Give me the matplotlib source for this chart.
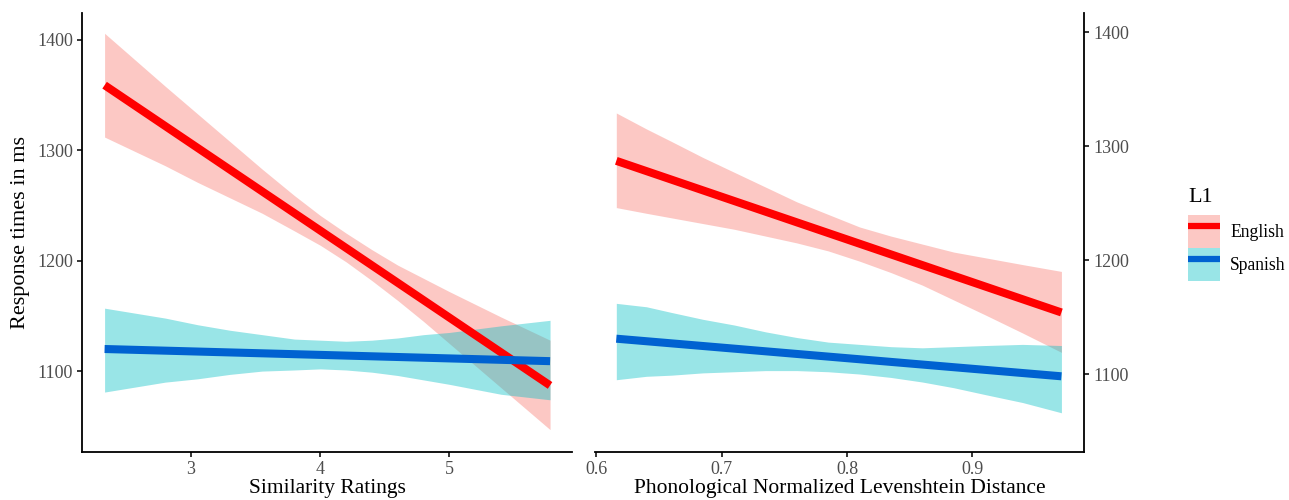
import matplotlib
matplotlib.use("Agg")
import matplotlib.pyplot as plt
from matplotlib.lines import Line2D
from matplotlib.patches import Patch

plt.rcParams["font.family"] = ["Liberation Serif", "DejaVu Serif"]

LINE_COLORS = {"English": "#ff0000", "Spanish": "#0062d1"}
BAND_COLORS = {"English": "#f8766d", "Spanish": "#00bfc4"}
BAND_ALPHA = 0.4
TICK_GRAY = "#4d4d4d"

# left panel: similarity ratings
sim_line_x = [2.33, 5.78]
sim_english_fit = [1359, 1087]
sim_spanish_fit = [1120, 1109]
sim_band_x = [2.33, 2.8, 3.05, 3.3, 3.55, 3.8, 4.0, 4.2, 4.4, 4.6, 4.8, 5.0, 5.4, 5.78]
sim_english_lo = [1312, 1286, 1271, 1257, 1243, 1227, 1214, 1199, 1182, 1164, 1145, 1125, 1085, 1047]
sim_english_hi = [1406, 1358, 1333, 1308, 1283, 1259, 1241, 1225, 1210, 1196, 1184, 1172, 1149, 1128]
sim_spanish_lo = [1081, 1090, 1093, 1097, 1100, 1101, 1102, 1101, 1099, 1096, 1092, 1088, 1079, 1074]
sim_spanish_hi = [1157, 1148, 1142, 1137, 1133, 1129, 1128, 1127, 1128, 1130, 1133, 1135, 1141, 1146]

# right panel: phonological normalized Levenshtein distance
pld_line_x = [0.616, 0.971]
pld_english_fit = [1287, 1154]
pld_spanish_fit = [1131, 1098]
pld_band_x = [0.616, 0.64, 0.66, 0.685, 0.71, 0.735, 0.76, 0.785, 0.81,
              0.835, 0.86, 0.885, 0.91, 0.94, 0.971]
pld_english_lo = [1246, 1241, 1237, 1232, 1227, 1221, 1215, 1208, 1199, 1189, 1178, 1165, 1152, 1136, 1119]
pld_english_hi = [1329, 1315, 1304, 1290, 1277, 1264, 1251, 1240, 1229, 1221, 1214, 1207, 1202, 1196, 1190]
pld_spanish_lo = [1095, 1098, 1099, 1101, 1102, 1103, 1103, 1102, 1100, 1097, 1093, 1088, 1082, 1075, 1066]
pld_spanish_hi = [1162, 1159, 1154, 1148, 1143, 1137, 1132, 1128, 1126, 1124, 1123, 1124, 1125, 1126, 1125]

sim_xticks = [3, 4, 5]
pld_xticks = [0.6, 0.7, 0.8, 0.9]
yticks = [1100, 1200, 1300, 1400]
groups = ["English", "Spanish"]


def draw_panel(ax, line_x, band_x, fits, bands):
    # english first, so the spanish band sits over the english line
    for name in groups:
        lo, hi = bands[name]
        ax.fill_between(band_x, lo, hi, color=BAND_COLORS[name],
                        alpha=BAND_ALPHA, linewidth=0)
        ax.plot(line_x, fits[name], color=LINE_COLORS[name],
                linewidth=5.8, solid_capstyle="butt")


def style_axis(ax, side):
    for spine in ["top", "right", "left", "bottom"]:
        ax.spines[spine].set_visible(spine in ("bottom", side))
        ax.spines[spine].set_linewidth(1.3)
        ax.spines[spine].set_color("black")
    ax.tick_params(direction="out", length=3.5, width=1.1, color="black",
                   labelsize=13, labelcolor=TICK_GRAY, pad=3)
    if side == "right":
        ax.yaxis.tick_right()
    ax.set_yticks(yticks)


figure = plt.figure(figsize=(12.89, 5.0), dpi=100)
ax_left = figure.add_axes([82 / 1289, 48 / 500, 490 / 1289, 439 / 500])
ax_right = figure.add_axes([595 / 1289, 48 / 500, 489 / 1289, 439 / 500])

draw_panel(ax_left, sim_line_x, sim_band_x,
           {"English": sim_english_fit, "Spanish": sim_spanish_fit},
           {"English": (sim_english_lo, sim_english_hi),
            "Spanish": (sim_spanish_lo, sim_spanish_hi)})
draw_panel(ax_right, pld_line_x, pld_band_x,
           {"English": pld_english_fit, "Spanish": pld_spanish_fit},
           {"English": (pld_english_lo, pld_english_hi),
            "Spanish": (pld_spanish_lo, pld_spanish_hi)})

ax_left.set_xlim(2.155, 5.95)
ax_left.set_ylim(1026.7, 1424.4)
ax_left.set_xticks(sim_xticks)
style_axis(ax_left, "left")
ax_left.set_xlabel("Similarity Ratings", fontsize=15.5, labelpad=1)
ax_left.set_ylabel("Response times in ms", fontsize=16, labelpad=5)

ax_right.set_xlim(0.599, 0.989)
ax_right.set_ylim(1031.6, 1416.7)
ax_right.set_xticks(pld_xticks)
style_axis(ax_right, "right")
ax_right.set_xlabel("Phonological Normalized Levenshtein Distance",
                    fontsize=15.5, labelpad=1)

handles = []
for name in groups:
    patch = Patch(facecolor=BAND_COLORS[name], alpha=BAND_ALPHA, linewidth=0)
    line = Line2D([], [], color=LINE_COLORS[name], linewidth=4.5,
                  solid_capstyle="butt")
    handles.append((patch, line))

figure.text(1188 / 1289, 1 - 198 / 500, "L1", fontsize=16, va="center",
            ha="left")
figure.legend(
    handles, groups,
    loc="upper left",
    bbox_to_anchor=(1188 / 1289, 1 - 215 / 500),
    frameon=False,
    fontsize=12.7,
    handlelength=1.82,
    handleheight=2.51,
    labelspacing=0.0,
    handletextpad=0.57,
    borderpad=0.0,
    borderaxespad=0.0,
)

figure.savefig("out.png", dpi=100)
plt.close(figure)
